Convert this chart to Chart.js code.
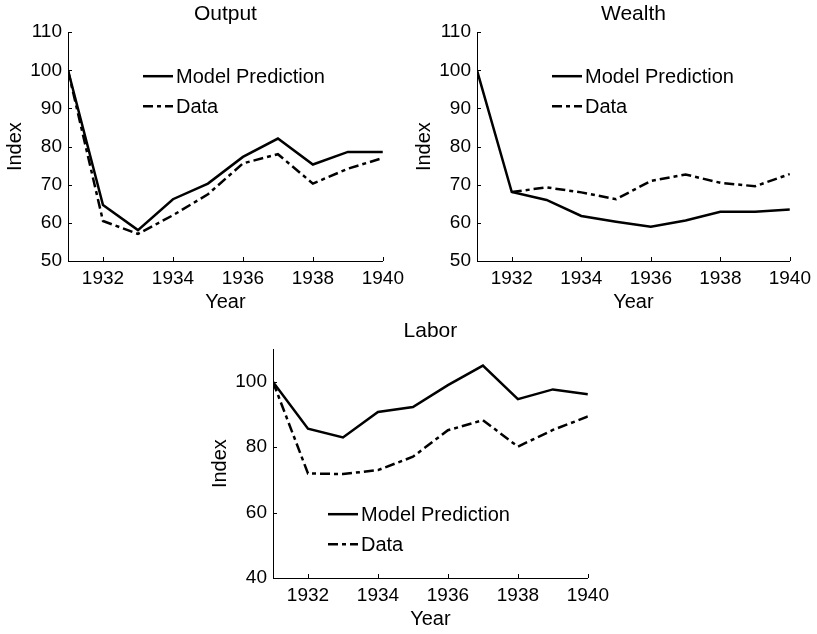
<!DOCTYPE html>
<html>
<head>
<meta charset="utf-8">
<script src="https://cdn.jsdelivr.net/npm/chart.js@4.4.0/dist/chart.umd.min.js"></script>
<style>
    html, body { margin: 0; padding: 0; background: #fff; width: 817px; height: 634px; overflow: hidden; }
    canvas { position: absolute; }
</style>
</head>
<body>
<canvas id="outputChart" width="410" height="317" style="left:0;top:0"></canvas>
<canvas id="wealthChart" width="408" height="317" style="left:409px;top:0"></canvas>
<canvas id="laborChart" width="410" height="317" style="left:205px;top:317px"></canvas>
<script>
// Data
const years = [1931, 1932, 1933, 1934, 1935, 1936, 1937, 1938, 1939, 1940];
const yearTicks = [1932, 1934, 1936, 1938, 1940];

const outputModel = [100, 64.7, 58.1, 66.2, 70.3, 77.3, 82.1, 75.3, 78.6, 78.6];
const outputData  = [100, 60.5, 57.1, 62.0, 67.5, 75.6, 78.0, 70.3, 74.2, 77.0];

const wealthModel = [100, 68.1, 66.0, 61.8, 60.3, 59.0, 60.6, 62.9, 62.9, 63.5];
const wealthData  = [null, 68.1, 69.3, 68.0, 66.2, 71.0, 72.7, 70.5, 69.6, 72.8];

const laborModel = [100, 85.7, 83.0, 90.8, 92.3, 99.0, 105.0, 94.7, 97.7, 96.2];
const laborData  = [100, 72.0, 71.8, 73.0, 77.1, 85.2, 88.3, 80.2, 85.3, 89.4];

const indexTicksTop = [50, 60, 70, 80, 90, 100, 110];
const indexTicksLabor = [40, 60, 80, 100];

const FONT = '"Liberation Sans", Arial, Helvetica, sans-serif';
const INK = '#000';

// Short tick marks pointing into the plot, like the original
const inwardTicks = {
    id: 'inwardTicks',
    afterDraw(chart) {
        const { ctx, chartArea, scales } = chart;
        ctx.save();
        ctx.strokeStyle = INK;
        ctx.lineWidth = 1;
        scales.x.ticks.forEach(t => {
            const px = Math.round(scales.x.getPixelForValue(t.value)) + 0.5;
            ctx.beginPath();
            ctx.moveTo(px, chartArea.bottom);
            ctx.lineTo(px, chartArea.bottom - 4);
            ctx.stroke();
        });
        scales.y.ticks.forEach(t => {
            const py = Math.round(scales.y.getPixelForValue(t.value)) + 0.5;
            ctx.beginPath();
            ctx.moveTo(chartArea.left, py);
            ctx.lineTo(chartArea.left + 4, py);
            ctx.stroke();
        });
        ctx.restore();
    }
};

// Legend drawn inside the plot area
const insideLegend = {
    id: 'insideLegend',
    afterDraw(chart, args, opts) {
        const { ctx, chartArea } = chart;
        const x0 = chartArea.left + opts.x;
        const y0 = chartArea.top + opts.y;
        chart.data.datasets.forEach((ds, i) => {
            const y = y0 + i * 30;
            ctx.save();
            ctx.strokeStyle = ds.borderColor;
            ctx.lineWidth = ds.borderWidth;
            ctx.setLineDash(ds.borderDash || []);
            ctx.beginPath();
            ctx.moveTo(x0, y);
            ctx.lineTo(x0 + 30, y);
            ctx.stroke();
            ctx.setLineDash([]);
            ctx.fillStyle = INK;
            ctx.font = '20px ' + FONT;
            ctx.textBaseline = 'middle';
            ctx.fillText(ds.label, x0 + 33, y + 1);
            ctx.restore();
        });
    }
};

function toPoints(values) {
    return years.map((yr, i) => ({ x: yr, y: values[i] }));
}

function makePanel(canvasId, title, model, data, yMin, yMax, yTicks, legendPos, rightPad) {
    const ctx = document.getElementById(canvasId).getContext('2d');
    return new Chart(ctx, {
        type: 'line',
        data: {
            datasets: [
                {
                    label: 'Model Prediction',
                    data: toPoints(model),
                    borderColor: INK,
                    borderWidth: 2.5,
                    pointRadius: 0,
                    tension: 0,
                    borderJoinStyle: 'miter'
                },
                {
                    label: 'Data',
                    data: toPoints(data),
                    borderColor: INK,
                    borderWidth: 2.5,
                    borderDash: [10, 4, 4, 4],
                    pointRadius: 0,
                    tension: 0,
                    borderJoinStyle: 'miter'
                }
            ]
        },
        options: {
            responsive: false,
            animation: false,
            events: [],
            layout: { padding: { left: 0, right: rightPad, top: 0, bottom: 0 } },
            scales: {
                x: {
                    type: 'linear',
                    min: years[0],
                    max: years[years.length - 1],
                    afterBuildTicks: (scale) => { scale.ticks = yearTicks.map(v => ({ value: v })); },
                    afterFit: (scale) => { scale.height = 56; },
                    grid: { display: false, drawTicks: false },
                    border: { display: true, color: INK, width: 1 },
                    ticks: {
                        color: INK,
                        padding: 6,
                        maxRotation: 0,
                        font: { family: FONT, size: 19 },
                        callback: (v) => String(v)
                    },
                    title: {
                        display: true,
                        text: 'Year',
                        color: INK,
                        font: { family: FONT, size: 20 },
                        padding: { top: 0, bottom: 3 }
                    }
                },
                y: {
                    min: yMin,
                    max: yMax,
                    afterBuildTicks: (scale) => { scale.ticks = yTicks.map(v => ({ value: v })); },
                    afterFit: (scale) => { scale.width = 68; },
                    grid: { display: false, drawTicks: false },
                    border: { display: true, color: INK, width: 1 },
                    ticks: {
                        color: INK,
                        padding: 6,
                        font: { family: FONT, size: 19 },
                        callback: (v) => String(v)
                    },
                    title: {
                        display: true,
                        text: 'Index',
                        color: INK,
                        font: { family: FONT, size: 20 },
                        padding: { top: 3, bottom: 0 }
                    }
                }
            },
            plugins: {
                legend: { display: false },
                tooltip: { enabled: false },
                title: {
                    display: true,
                    text: title,
                    fullSize: false,
                    color: INK,
                    font: { family: FONT, size: 21, weight: 'normal' },
                    padding: { top: 2, bottom: 5 }
                },
                insideLegend: legendPos
            }
        },
        plugins: [inwardTicks, insideLegend]
    });
}

makePanel('outputChart', 'Output', outputModel, outputData, 50, 110, indexTicksTop, { x: 75, y: 44 }, 25);
makePanel('wealthChart', 'Wealth', wealthModel, wealthData, 50, 110, indexTicksTop, { x: 75, y: 44 }, 26);
makePanel('laborChart', 'Labor', laborModel, laborData, 40, 110, indexTicksLabor, { x: 55, y: 165 }, 27);
</script>
</body>
</html>
